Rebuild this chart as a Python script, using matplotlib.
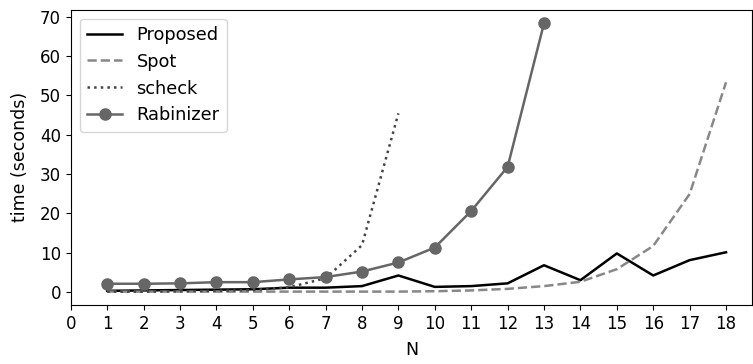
import matplotlib.pyplot as plt

N = list(range(1, 19))
proposed = [0.3, 0.4, 0.5, 0.6, 0.7, 1.1, 1.1, 1.5, 4.2, 1.3, 1.5, 2.2, 6.8, 3.0, 9.8, 4.2, 8.1, 10.1]
spot = [0.1, 0.1, 0.1, 0.1, 0.1, 0.1, 0.1, 0.1, 0.1, 0.2, 0.4, 0.8, 1.5, 2.6, 5.8, 11.7, 24.9, 53.3]
scheck_n = list(range(1, 10))
scheck = [0.1, 0.1, 0.2, 0.3, 0.5, 1.2, 3.5, 11.9, 45.4]
rab_n = list(range(1, 14))
rabinizer = [2.1, 2.1, 2.2, 2.5, 2.5, 3.2, 3.8, 5.2, 7.5, 11.3, 20.6, 31.8, 68.3]

plt.rcParams['font.size'] = 12

fig, ax = plt.subplots(figsize=(7.53, 3.64), dpi=100)
fig.subplots_adjust(left=0.094, right=0.999, top=0.973, bottom=0.162)

ax.plot(N, proposed, color='black', linestyle='-', linewidth=1.8, label='Proposed')
ax.plot(N, spot, color='#888888', linestyle='--', linewidth=1.8, label='Spot')
ax.plot(scheck_n, scheck, color='#444444', linestyle=':', linewidth=1.8, label='scheck')
ax.plot(rab_n, rabinizer, color='#666666', linestyle='-', linewidth=1.8,
        marker='o', markersize=8, label='Rabinizer')

ax.set_xlim(0, 18.72)
ax.set_xticks(range(0, 19))
ax.set_yticks(range(0, 71, 10))
ax.set_xlabel('N', fontsize=12.5, labelpad=6)
ax.set_ylabel('time (seconds)', fontsize=12.5, labelpad=8)
ax.legend(loc='upper left', fontsize=12.8)

fig.savefig('out.png', dpi=100)
